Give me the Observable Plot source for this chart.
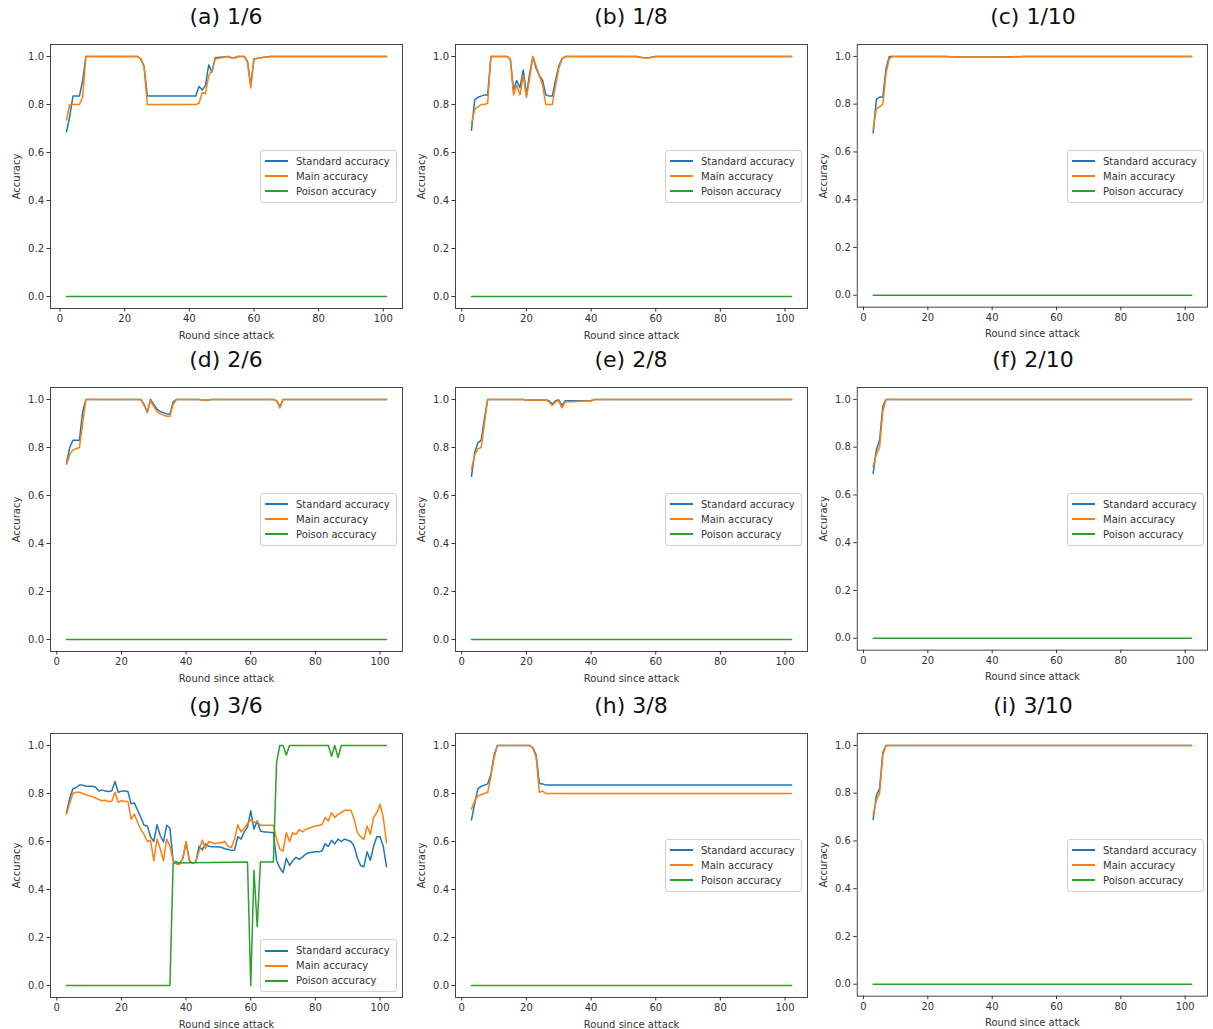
<!DOCTYPE html>
<html>
<head>
<meta charset="utf-8">
<script src="https://cdn.jsdelivr.net/npm/d3@7"></script>
<script src="https://cdn.jsdelivr.net/npm/@observablehq/plot@0.6"></script>
<style>
  html, body { margin: 0; padding: 0; background: #fff; }
  #fig { position: relative; width: 1213px; height: 1029px; background: #fff; overflow: hidden;
         font-family: 'DejaVu Sans', sans-serif; }
  .panel { position: absolute; }
  .title { position: absolute; font-size: 22px; color: #111; text-align: center; white-space: nowrap; }
  .legend { position: absolute; background: rgba(255,255,255,0.8); border: 1px solid #d0d0d0; border-radius: 3px;
            font-size: 10px; color: #333; padding: 3px 6px 3px 4px; }
  .legend .row { display: flex; align-items: center; height: 15px; }
  .legend .sw { display: inline-block; width: 23px; height: 2px; margin-right: 8px; }
</style>
</head>
<body>
<div id="fig"></div>
<script>
// ---------------- data ----------------
const seriesNames = ["Standard accuracy", "Main accuracy", "Poison accuracy"];
const seriesColors = ["#1f77b4", "#ff7f0e", "#2ca02c"];
const xTicks = [0, 20, 40, 60, 80, 100];
const yTicks = [0, 0.2, 0.4, 0.6, 0.8, 1.0];

// (a) 1/6
const aRounds   = [2, 3, 4, 5, 6, 7, 8, 24, 25, 26, 27, 42, 43, 44, 45, 46, 47, 48, 52, 53, 54, 55, 57, 58, 59, 60, 62, 65, 101];
const aStandard = [0.686, 0.75, 0.835, 0.835, 0.835, 0.9, 1.0, 1.0, 0.99, 0.96, 0.835, 0.835, 0.875, 0.86, 0.88, 0.965, 0.935, 0.995, 1.0, 0.995, 0.995, 1.0, 1.0, 0.98, 0.88, 0.99, 0.995, 1.0, 1.0];
const aMain     = [0.735, 0.80, 0.80, 0.80, 0.80, 0.83, 1.0, 1.0, 0.99, 0.955, 0.80, 0.80, 0.805, 0.85, 0.845, 0.92, 0.94, 0.99, 1.0, 0.995, 0.995, 1.0, 1.0, 0.975, 0.87, 0.99, 0.995, 1.0, 1.0];
const aPoisonRounds = [2, 101];
const aPoison       = [0, 0];

// (b) 1/8
const bRounds   = [3, 4, 5, 6, 7, 8, 9, 14, 15, 16, 17, 18, 19, 20, 21, 22, 23, 24, 25, 26, 27, 28, 29, 30, 31, 32, 54, 56, 58, 60, 102];
const bStandard = [0.693, 0.82, 0.83, 0.835, 0.84, 0.84, 1.0, 1.0, 0.99, 0.86, 0.90, 0.87, 0.944, 0.84, 0.93, 1.0, 0.95, 0.92, 0.90, 0.84, 0.835, 0.835, 0.90, 0.96, 0.99, 1.0, 1.0, 0.995, 0.995, 1.0, 1.0];
const bMain     = [0.72, 0.78, 0.79, 0.80, 0.80, 0.805, 1.0, 1.0, 0.99, 0.84, 0.88, 0.84, 0.92, 0.83, 0.91, 1.0, 0.96, 0.92, 0.88, 0.80, 0.80, 0.80, 0.88, 0.95, 0.99, 1.0, 1.0, 0.995, 0.995, 1.0, 1.0];
const bPoisonRounds = [3, 102];
const bPoison       = [0, 0];

// (c) 1/10
const cRounds   = [3, 4, 5, 6, 7, 8, 9, 25, 30, 40, 45, 50, 102];
const cStandard = [0.68, 0.82, 0.83, 0.83, 0.95, 1.0, 1.0, 1.0, 0.998, 0.998, 0.998, 1.0, 1.0];
const cMain     = [0.70, 0.78, 0.79, 0.80, 0.93, 0.99, 1.0, 1.0, 0.998, 0.998, 0.998, 1.0, 1.0];
const cPoisonRounds = [3, 102];
const cPoison       = [0, 0];

// (d) 2/6
const dRounds   = [3, 4, 5, 6, 7, 8, 9, 26, 27, 28, 29, 30, 31, 32, 33, 34, 35, 36, 37, 44, 46, 48, 67, 68, 69, 70, 102];
const dStandard = [0.735, 0.80, 0.83, 0.83, 0.83, 0.95, 1.0, 1.0, 0.98, 0.947, 1.0, 0.98, 0.96, 0.95, 0.945, 0.94, 0.94, 0.99, 1.0, 1.0, 0.997, 1.0, 1.0, 0.995, 0.97, 1.0, 1.0];
const dMain     = [0.73, 0.77, 0.79, 0.795, 0.80, 0.90, 1.0, 1.0, 0.975, 0.95, 0.995, 0.97, 0.95, 0.94, 0.935, 0.93, 0.93, 0.98, 1.0, 1.0, 0.997, 1.0, 1.0, 0.995, 0.965, 1.0, 1.0];
const dPoisonRounds = [3, 102];
const dPoison       = [0, 0];

// (e) 2/8
const eRounds   = [3, 4, 5, 6, 7, 8, 19, 20, 21, 26, 27, 28, 29, 30, 31, 32, 40, 41, 102];
const eStandard = [0.68, 0.78, 0.82, 0.83, 0.92, 1.0, 1.0, 0.997, 0.998, 0.998, 0.995, 0.98, 0.995, 0.998, 0.975, 0.995, 0.995, 1.0, 1.0];
const eMain     = [0.71, 0.77, 0.795, 0.80, 0.90, 1.0, 1.0, 0.997, 0.998, 0.998, 0.99, 0.975, 0.99, 0.995, 0.965, 0.99, 0.995, 1.0, 1.0];
const ePoisonRounds = [3, 102];
const ePoison       = [0, 0];

// (f) 2/10
const fRounds   = [3, 4, 5, 6, 7, 102];
const fStandard = [0.69, 0.79, 0.83, 0.97, 1.0, 1.0];
const fMain     = [0.72, 0.77, 0.80, 0.95, 1.0, 1.0];
const fPoisonRounds = [3, 102];
const fPoison       = [0, 0];

// (g) 3/6
const gRounds = [3, 4, 5, 6, 7, 8, 9, 10, 11, 12, 13, 14, 15, 16, 17, 18, 19, 20, 21, 22,
  23, 24, 25, 26, 27, 28, 29, 30, 31, 32, 33, 34, 35, 36, 37, 38, 39, 40, 41, 42,
  43, 44, 45, 46, 47, 48, 49, 50, 51, 52, 53, 54, 55, 56, 57, 58, 59, 60, 61, 62,
  63, 64, 65, 66, 67, 68, 69, 70, 71, 72, 73, 74, 75, 76, 77, 78, 79, 80, 81, 82,
  83, 84, 85, 86, 87, 88, 89, 90, 91, 92, 93, 94, 95, 96, 97, 98, 99, 100, 101, 102];
const gStandard = [
  0.72, 0.78, 0.82, 0.825, 0.835, 0.835, 0.83, 0.83, 0.83, 0.826,
  0.81, 0.815, 0.81, 0.808, 0.81, 0.85, 0.805, 0.81, 0.81, 0.808,
  0.757, 0.76, 0.73, 0.70, 0.668, 0.665, 0.62, 0.60, 0.67, 0.625,
  0.598, 0.668, 0.655, 0.518, 0.515, 0.51, 0.53, 0.598, 0.52, 0.51,
  0.515, 0.58, 0.565, 0.59, 0.58, 0.578, 0.578, 0.578, 0.575, 0.57,
  0.567, 0.563, 0.565, 0.62, 0.61, 0.64, 0.66, 0.728, 0.652, 0.686,
  0.644, 0.64, 0.64, 0.638, 0.637, 0.52, 0.49, 0.47, 0.53, 0.50,
  0.52, 0.534, 0.526, 0.535, 0.548, 0.553, 0.555, 0.557, 0.557, 0.56,
  0.59, 0.58, 0.605, 0.59, 0.61, 0.60, 0.61, 0.605, 0.60, 0.58,
  0.53, 0.50, 0.495, 0.557, 0.522, 0.58, 0.62, 0.62, 0.58, 0.495];
const gMain = [
  0.714, 0.76, 0.80, 0.805, 0.805, 0.80, 0.795, 0.79, 0.788, 0.78,
  0.775, 0.77, 0.772, 0.767, 0.768, 0.805, 0.763, 0.77, 0.768, 0.767,
  0.693, 0.714, 0.68, 0.65, 0.63, 0.60, 0.605, 0.52, 0.61, 0.57,
  0.52, 0.61, 0.58, 0.52, 0.505, 0.505, 0.53, 0.60, 0.52, 0.51,
  0.515, 0.56, 0.605, 0.57, 0.60, 0.595, 0.59, 0.595, 0.595, 0.60,
  0.58, 0.575, 0.61, 0.67, 0.64, 0.655, 0.675, 0.69, 0.679, 0.682,
  0.668, 0.668, 0.668, 0.668, 0.668, 0.61, 0.568, 0.56, 0.637, 0.60,
  0.637, 0.63, 0.65, 0.64, 0.65, 0.655, 0.66, 0.665, 0.667, 0.67,
  0.70, 0.686, 0.72, 0.70, 0.714, 0.72, 0.73, 0.73, 0.73, 0.693,
  0.637, 0.62, 0.609, 0.665, 0.63, 0.70, 0.72, 0.755, 0.70, 0.595];
const gPoisonRounds = [3, 35, 36, 59, 60, 61, 62, 63, 67, 68, 69, 70, 71, 72, 84, 85, 86, 87, 88, 102];
const gPoison       = [0, 0, 0.51, 0.515, 0, 0.48, 0.245, 0.515, 0.515, 0.93, 1.0, 1.0, 0.96, 1.0, 1.0, 0.955, 1.0, 0.95, 1.0, 1.0];

// (h) 3/8
const hRounds   = [3, 4, 5, 6, 7, 8, 9, 10, 11, 21, 22, 23, 24, 25, 26, 102];
const hStandard = [0.69, 0.76, 0.82, 0.83, 0.835, 0.84, 0.88, 0.96, 1.0, 1.0, 0.99, 0.96, 0.842, 0.84, 0.835, 0.835];
const hMain     = [0.735, 0.77, 0.79, 0.795, 0.80, 0.805, 0.87, 0.95, 1.0, 1.0, 0.99, 0.95, 0.805, 0.81, 0.80, 0.80];
const hPoisonRounds = [3, 102];
const hPoison       = [0, 0];

// (i) 3/10
const iRounds   = [3, 4, 5, 6, 7, 102];
const iStandard = [0.69, 0.79, 0.82, 0.97, 1.0, 1.0];
const iMain     = [0.71, 0.77, 0.80, 0.96, 1.0, 1.0];
const iPoisonRounds = [3, 102];
const iPoison       = [0, 0];

const panelTitles = ["(a) 1/6", "(b) 1/8", "(c) 1/10", "(d) 2/6", "(e) 2/8", "(f) 2/10", "(g) 3/6", "(h) 3/8", "(i) 3/10"];

// ---------------- layout ----------------
const panels = [
  [aRounds, aStandard, aMain, aPoisonRounds, aPoison, "center"],
  [bRounds, bStandard, bMain, bPoisonRounds, bPoison, "center"],
  [cRounds, cStandard, cMain, cPoisonRounds, cPoison, "center"],
  [dRounds, dStandard, dMain, dPoisonRounds, dPoison, "center"],
  [eRounds, eStandard, eMain, ePoisonRounds, ePoison, "center"],
  [fRounds, fStandard, fMain, fPoisonRounds, fPoison, "center"],
  [gRounds, gStandard, gMain, gPoisonRounds, gPoison, "lower"],
  [hRounds, hStandard, hMain, hPoisonRounds, hPoison, "center"],
  [iRounds, iStandard, iMain, iPoisonRounds, iPoison, "center"]
];

const colLeft = [50, 455, 857];
const rowTop = [44, 387, 733];
const FW = 352, FH = 264;
const mL = 50, mR = 6, mT = 6, mB = 42;
const font = "'DejaVu Sans', sans-serif";

const fig = document.getElementById("fig");

panels.forEach((p, k) => {
  const [rounds, std, main, pRounds, poison, legendPos] = p;
  const col = k % 3, row = Math.floor(k / 3);
  const lo = d3.min([...rounds, ...pRounds]), hi = d3.max([...rounds, ...pRounds]);
  const pad = (hi - lo) * 0.05;

  const chart = Plot.plot({
    width: FW + mL + mR,
    height: FH + mT + mB,
    marginLeft: mL, marginRight: mR, marginTop: mT, marginBottom: mB,
    style: { fontFamily: font, fontSize: "10px", color: "#333", background: "transparent", overflow: "visible" },
    x: { domain: [lo - pad, hi + pad] },
    y: { domain: [-0.05, 1.05] },
    marks: [
      Plot.line(rounds, { x: rounds, y: std, stroke: seriesColors[0], strokeWidth: 1.5 }),
      Plot.line(rounds, { x: rounds, y: main, stroke: seriesColors[1], strokeWidth: 1.5 }),
      Plot.line(pRounds, { x: pRounds, y: poison, stroke: seriesColors[2], strokeWidth: 1.5 }),
      Plot.frame({ stroke: "#333", strokeWidth: 0.9 }),
      Plot.axisX({ ticks: xTicks, tickFormat: d => String(d), tickSize: 3.5, tickPadding: 3,
                   label: "Round since attack", labelAnchor: "center", labelOffset: 30, labelArrow: "none" }),
      Plot.axisY({ ticks: yTicks, tickFormat: d => d.toFixed(1), tickSize: 3.5, tickPadding: 3,
                   label: "Accuracy", labelAnchor: "center", labelOffset: 38, labelArrow: "none" })
    ]
  });

  const div = document.createElement("div");
  div.className = "panel";
  div.style.left = (colLeft[col] - mL) + "px";
  div.style.top = (rowTop[row] - mT) + "px";
  div.appendChild(chart);
  fig.appendChild(div);

  // title
  const t = document.createElement("div");
  t.className = "title";
  t.textContent = panelTitles[k];
  t.style.left = colLeft[col] + "px";
  t.style.width = FW + "px";
  t.style.top = (rowTop[row] - 40) + "px";
  fig.appendChild(t);

  // legend
  const lg = document.createElement("div");
  lg.className = "legend";
  seriesNames.forEach((name, j) => {
    const r = document.createElement("div");
    r.className = "row";
    const sw = document.createElement("span");
    sw.className = "sw";
    sw.style.background = seriesColors[j];
    const tx = document.createElement("span");
    tx.textContent = name;
    r.appendChild(sw); r.appendChild(tx);
    lg.appendChild(r);
  });
  fig.appendChild(lg);
  const lw = lg.offsetWidth, lh = lg.offsetHeight;
  lg.style.left = (colLeft[col] + FW - 5 - lw) + "px";
  if (legendPos === "lower") lg.style.top = (rowTop[row] + FH - 5 - lh) + "px";
  else lg.style.top = (rowTop[row] + FH / 2 - lh / 2) + "px";
});
</script>
</body>
</html>
